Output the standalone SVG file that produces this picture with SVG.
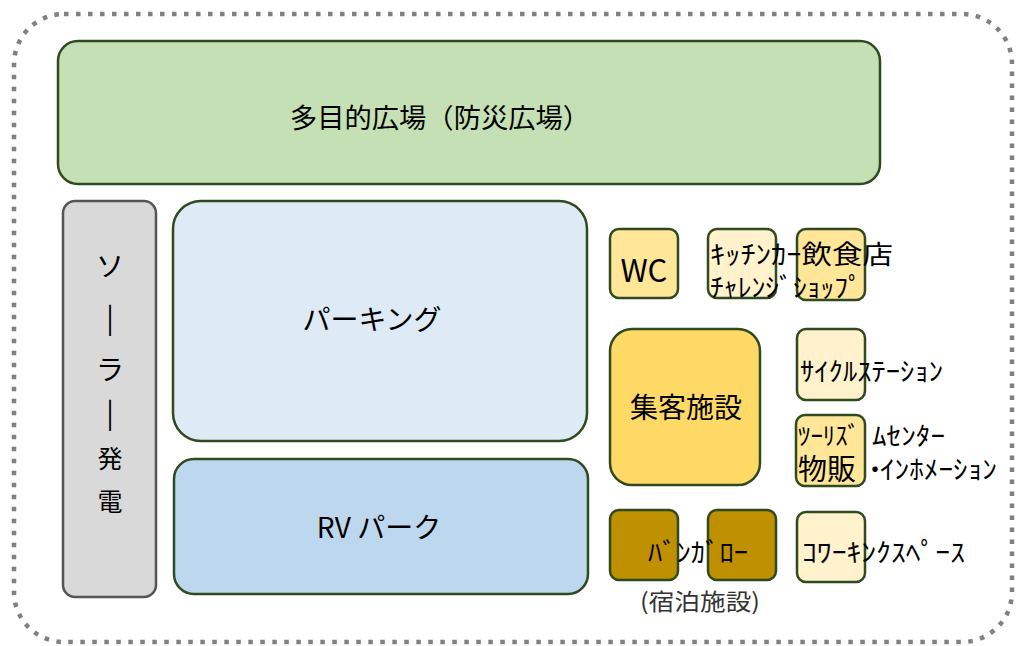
<svg xmlns="http://www.w3.org/2000/svg" width="1016" height="646" viewBox="0 0 1016 646">
<style>
.box{stroke:#2f4a1f;stroke-width:2.5}
.t{font-family:"Noto Sans CJK JP","Liberation Sans",sans-serif;fill:#000;text-anchor:middle;dominant-baseline:central}
.n{font-family:"Noto Sans CJK JP","Liberation Sans",sans-serif;fill:#000;dominant-baseline:central}
</style>
<rect width="1016" height="646" fill="#fff"/>
<g id="boundary"><rect x="14" y="14" width="998" height="628" rx="50" fill="none" stroke="#808080" stroke-width="4.5" stroke-dasharray="4.5 7.5"/></g>
<g id="plaza"><rect class="box" x="58" y="41" width="822" height="143" rx="20" fill="#c5e0b4"/><text class="t" x="440" y="116" font-size="27" textLength="300" lengthAdjust="spacingAndGlyphs">多目的広場（防災広場）</text></g>
<g id="solar"><rect x="63" y="201" width="93" height="396" rx="12" fill="#d9d9d9" stroke="#555" stroke-width="2.5"/>
<text class="t" x="110" y="265" font-size="28">ソ</text>
<text class="t" x="110" y="316" font-size="28">|</text>
<text class="t" x="110" y="368" font-size="28">ラ</text>
<text class="t" x="110" y="411" font-size="28">|</text>
<text class="t" x="110" y="457" font-size="25">発</text>
<text class="t" x="110" y="500" font-size="25">電</text></g>
<g id="parking"><rect class="box" x="173" y="201" width="414" height="240" rx="28" fill="#deebf7"/><text class="t" x="372" y="318" font-size="28">パーキング</text></g>
<g id="rvpark"><rect class="box" x="174" y="459" width="414" height="135" rx="20" fill="#bdd7ee"/><text class="t" x="379" y="526" font-size="28">RV パーク</text></g>
<g id="wc"><rect class="box" x="610" y="229" width="68" height="69" rx="9" fill="#ffe699"/><text class="t" x="644" y="268" font-size="31" font-family="Liberation Sans">WC</text></g>
<g id="kitchen"><rect class="box" x="708" y="229" width="68" height="69" rx="9" fill="#fff2cc"/></g>
<g id="shop"><rect class="box" x="797" y="229" width="68" height="71" rx="9" fill="#ffe699"/>
<text class="n" x="710" y="252" font-size="26" textLength="183" lengthAdjust="spacingAndGlyphs">ｷｯﾁﾝｶｰ飲食店</text>
<text class="n" x="710" y="285" font-size="26" textLength="152" lengthAdjust="spacingAndGlyphs">ﾁｬﾚﾝｼﾞｼｮｯﾌﾟ</text></g>
<g id="shukyaku"><rect class="box" x="610" y="329" width="150" height="156" rx="22" fill="#ffd966"/><text class="t" x="686" y="406" font-size="28">集客施設</text></g>
<g id="cycle"><rect class="box" x="797" y="329" width="68" height="71" rx="9" fill="#fff2cc"/><text class="n" x="800" y="369" font-size="26" textLength="143" lengthAdjust="spacingAndGlyphs">ｻｲｸﾙｽﾃｰｼｮﾝ</text></g>
<g id="tourism"><rect class="box" x="796" y="415" width="69" height="71" rx="9" fill="#ffe699"/>
<text class="n" y="434" font-size="25"><tspan x="798" textLength="62" lengthAdjust="spacingAndGlyphs">ﾂｰﾘｽﾞ</tspan><tspan x="872" textLength="73" lengthAdjust="spacingAndGlyphs">ﾑｾﾝﾀｰ</tspan></text>
<text class="n" y="467" font-size="26"><tspan x="798" font-size="29">物販</tspan><tspan x="862">・</tspan><tspan x="880" textLength="117" lengthAdjust="spacingAndGlyphs">ｲﾝﾎﾒｰｼｮﾝ</tspan></text></g>
<g id="bungalow"><rect class="box" x="610" y="510" width="68" height="70" rx="9" fill="#bf9000"/><rect class="box" x="708" y="510" width="68" height="70" rx="9" fill="#bf9000"/>
<text class="n" x="648" y="550" font-size="26" textLength="100" lengthAdjust="spacingAndGlyphs">ﾊﾞﾝｶﾞﾛｰ</text>
<text class="t" x="700" y="600" font-size="23" textLength="120" lengthAdjust="spacingAndGlyphs" style="fill:#333">(宿泊施設)</text></g>
<g id="cowork"><rect class="box" x="797" y="512" width="68" height="70" rx="9" fill="#fff2cc"/><text class="n" x="802" y="550" font-size="26" textLength="163" lengthAdjust="spacingAndGlyphs">ｺﾜｰｷﾝｸｽﾍﾟｰｽ</text></g>
<g id="connectors"></g>
</svg>
